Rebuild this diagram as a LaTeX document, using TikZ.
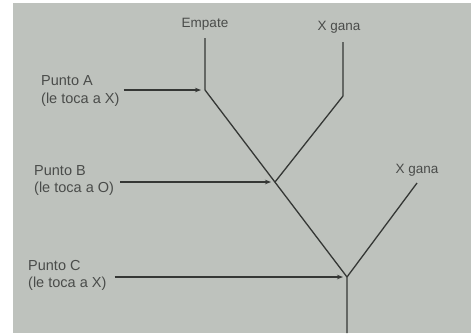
\documentclass[tikz,border=0pt]{standalone}
\usepackage{fontspec}
\setmainfont{Liberation Sans}
\usetikzlibrary{arrows.meta}
\definecolor{paper}{HTML}{BEC2BD}
\definecolor{ink}{HTML}{353735}
\definecolor{txt}{HTML}{4A4C4A}
\begin{document}
\begin{tikzpicture}[x=1pt,y=-1pt,
  treeline/.style={draw=ink,line width=1.3pt,line join=miter},
  pointer/.style={draw=ink,line width=1.1pt,-{Stealth[length=6pt,width=4.5pt]},shorten >=4pt},
  lab/.style={text=txt,font=\fontsize{13.5}{17}\selectfont,inner sep=0pt},
  ptlab/.style={lab,font=\fontsize{14.5}{17.5}\selectfont,align=left,anchor=west}]
\useasboundingbox (0,0) rectangle (476,333);
\fill[white] (0,0) rectangle (476,333);
\fill[paper] (13,3) rectangle (471,333);
% tree points
\coordinate (A) at (205,90);
\coordinate (B) at (275,182);
\coordinate (C) at (347,277);
\coordinate (Etop) at (205,38);
\coordinate (X1top) at (343,42);
\coordinate (X1bend) at (343,96);
\coordinate (X2top) at (417,183);
\coordinate (bottom) at (347,333);
% labels
\node[lab] (emp) at (205,24) {Empate};
\node[lab] (xg1) at (339,27) {X gana};
\node[lab] (xg2) at (417,170) {X gana};
\node[ptlab] (pa) at (41,91) {Punto A\\(le toca a X)};
\node[ptlab] (pb) at (34,180.5) {Punto B\\(le toca a O)};
\node[ptlab] (pc) at (28,275.5) {Punto C\\(le toca a X)};
% tree
\draw[treeline] (Etop) -- (A) -- (C) -- (bottom);
\draw[treeline] (X1top) -- (X1bend) -- (B);
\draw[treeline] (X2top) -- (C);
% arrows
\draw[pointer] ([xshift=4pt]pa.east |- A) -- (A);
\draw[pointer] ([xshift=6pt]pb.east |- B) -- (B);
\draw[pointer] ([xshift=8pt]pc.east |- C) -- (C);
\end{tikzpicture}
\end{document}
